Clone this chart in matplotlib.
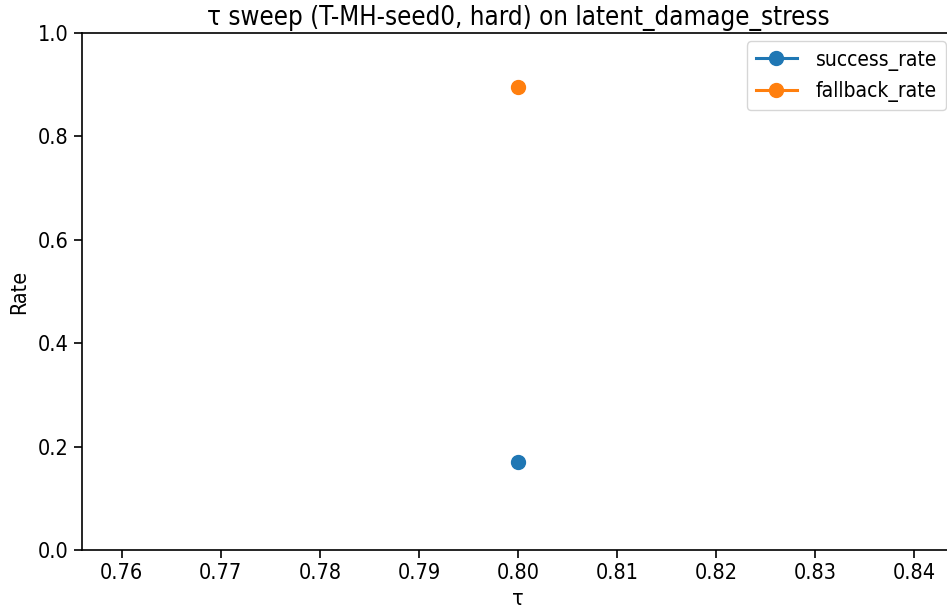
import matplotlib.pyplot as plt

taus = [0.80]
success_rate = [0.17]
fallback_rate = [0.895]

W, H = 947, 611
fig = plt.figure(figsize=(W / 100, H / 100), dpi=100)
# axes box in pixels: left 82, right 954 (past the edge), top 33, bottom 550
ax = fig.add_axes([82 / W, (H - 550) / H, (954 - 82) / W, (550 - 33) / H])

ax.plot(taus, success_rate, marker='o', markersize=10, linewidth=2.2, label='success_rate')
ax.plot(taus, fallback_rate, marker='o', markersize=10, linewidth=2.2, label='fallback_rate')

ax.set_xlim(0.756, 0.844)
ax.set_ylim(0, 1.0)
ax.set_xticks([0.76, 0.77, 0.78, 0.79, 0.80, 0.81, 0.82, 0.83, 0.84])

fs = 15.5
for lab in ax.get_xticklabels() + ax.get_yticklabels():
    lab.set_fontsize(fs)
    lab.set_fontstretch('condensed')
ax.tick_params(length=6, width=1.2)
for sp in ax.spines.values():
    sp.set_linewidth(1.2)

ax.set_title('τ sweep (T-MH-seed0, hard) on latent_damage_stress',
             fontsize=18.5, fontstretch='condensed')
ax.set_xlabel('τ', fontsize=15.5, fontstretch='condensed')
ax.set_ylabel('Rate', fontsize=15.5, fontstretch='condensed', labelpad=6)
ax.legend(loc='upper right', prop={'size': 15, 'stretch': 'condensed'},
          borderaxespad=0.4, handletextpad=0.9)

fig.savefig('out.png', dpi=100)
